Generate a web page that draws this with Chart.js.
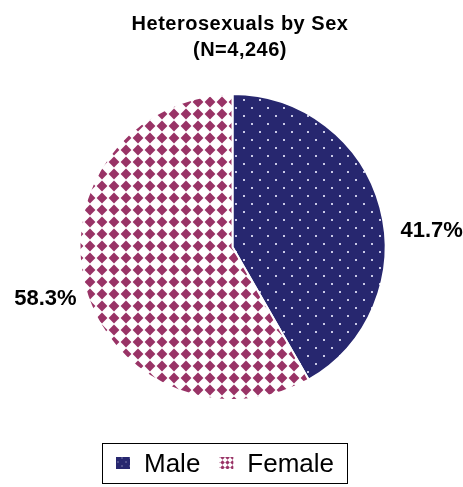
<!DOCTYPE html>
<html>
<head>
<meta charset="utf-8">
<script src="https://cdn.jsdelivr.net/npm/chart.js@4"></script>
<style>
  html, body { margin: 0; padding: 0; background: #fff; }
  #wrap { width: 463px; height: 487px; position: relative; }
</style>
</head>
<body>
<div id="wrap"><canvas id="pieChart" width="463" height="487"></canvas></div>
<script>
// chart data
const titleLines = ['Heterosexuals by Sex', '(N=4,246)'];
const categories = ['Male', 'Female'];
const percents = [41.7, 58.3];
const pctLabels = ['41.7%', '58.3%'];

// fill patterns, like the old Excel ones
function dotPattern(step, dot) {
    const c = document.createElement('canvas');
    c.width = step * 2; c.height = step * 2;
    const g = c.getContext('2d');
    g.fillStyle = '#27276f';
    g.fillRect(0, 0, step * 2, step * 2);
    g.fillStyle = '#c9c9e6';
    g.fillRect(step / 2 - dot / 2, step / 2 - dot / 2, dot, dot);
    g.fillRect(step * 1.5 - dot / 2, step * 1.5 - dot / 2, dot, dot);
    return g.createPattern(c, 'repeat');
}

function diamondPattern(step) {
    const c = document.createElement('canvas');
    c.width = step; c.height = step;
    const g = c.getContext('2d');
    const h = step / 2, gap = step * 0.05;
    g.fillStyle = '#ffffff';
    g.fillRect(0, 0, step, step);
    g.fillStyle = '#993366';
    g.beginPath();
    g.moveTo(h, gap);
    g.lineTo(step - gap, h);
    g.lineTo(h, step - gap);
    g.lineTo(gap, h);
    g.closePath();
    g.fill();
    return g.createPattern(c, 'repeat');
}

const fills = [dotPattern(8, 2), diamondPattern(12)];
const legendFills = [dotPattern(4, 1), diamondPattern(5)];

// title drawn by hand so the pie can sit where it should
const titlePlugin = {
    id: 'titleText',
    afterDraw(chart) {
        const ctx = chart.ctx;
        ctx.save();
        ctx.fillStyle = '#000';
        ctx.font = 'bold 20px "Liberation Sans", Arial, sans-serif';
        ctx.letterSpacing = '0.5px';
        ctx.textAlign = 'center';
        ctx.textBaseline = 'alphabetic';
        titleLines.forEach((t, i) => ctx.fillText(t, 240, 30 + i * 26));
        ctx.restore();
    }
};

// percent labels outside the slices
const labelShift = [[3, 36], [9, 0]];
const pctPlugin = {
    id: 'pctLabels',
    afterDatasetsDraw(chart) {
        const ctx = chart.ctx;
        const meta = chart.getDatasetMeta(0);
        ctx.save();
        ctx.fillStyle = '#000';
        ctx.font = 'bold 22px "Liberation Sans", Arial, sans-serif';
        ctx.textAlign = 'center';
        ctx.textBaseline = 'middle';
        meta.data.forEach((arc, i) => {
            const mid = (arc.startAngle + arc.endAngle) / 2;
            const d = arc.outerRadius + 50;
            const x = arc.x + Math.cos(mid) * d + labelShift[i][0];
            const y = arc.y + Math.sin(mid) * d + labelShift[i][1];
            ctx.fillText(pctLabels[i], x, y);
        });
        ctx.restore();
    }
};

// boxed legend at the bottom
const legendPlugin = {
    id: 'boxLegend',
    afterDraw(chart) {
        const ctx = chart.ctx;
        ctx.save();
        ctx.strokeStyle = '#000';
        ctx.lineWidth = 1;
        ctx.strokeRect(102.5, 443.5, 245, 40);
        ctx.font = '26px "Liberation Sans", Arial, sans-serif';
        ctx.textBaseline = 'middle';
        let x = 116;
        categories.forEach((name, i) => {
            ctx.fillStyle = legendFills[i];
            ctx.fillRect(x, 457, 14, 12);
            ctx.fillStyle = '#000';
            ctx.fillText(name, x + 28, 465);
            x += 28 + ctx.measureText(name).width + 19;
        });
        ctx.restore();
    }
};

const ctx = document.getElementById('pieChart').getContext('2d');
const pieChart = new Chart(ctx, {
    type: 'pie',
    data: {
        labels: categories,
        datasets: [{
            data: percents,
            backgroundColor: fills,
            borderColor: '#ffffff',
            borderWidth: 2
        }]
    },
    options: {
        responsive: false,
        animation: false,
        layout: {
            padding: { top: 93, bottom: 86, left: 2, right: 0 }
        },
        plugins: {
            legend: { display: false },
            tooltip: { enabled: false },
            title: { display: false }
        }
    },
    plugins: [titlePlugin, pctPlugin, legendPlugin]
});
</script>
</body>
</html>
